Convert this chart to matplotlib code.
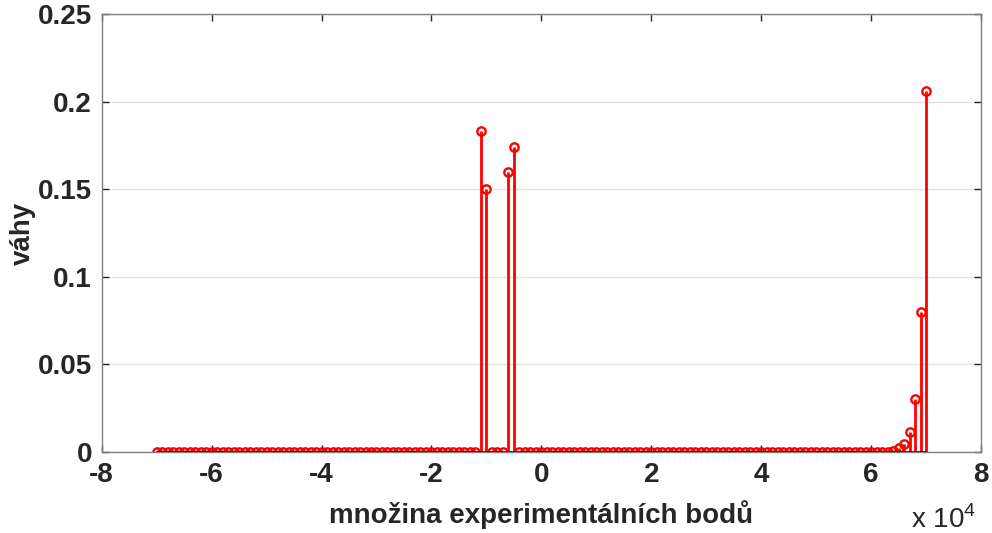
import matplotlib.pyplot as plt
import numpy as np

# experimental points (step 1000) and their weights
body = np.arange(-70000, 70001, 1000)
nenulove_body = [-11000, -10000, -6000, -5000, 64000, 65000, 66000, 67000, 68000, 69000, 70000]
nenulove_vahy = [0.1834, 0.1500, 0.1600, 0.1743, 0.0006, 0.0020, 0.0045, 0.0116, 0.0305, 0.0797, 0.2062]

vahy = np.zeros(len(body))
for b, v in zip(nenulove_body, nenulove_vahy):
    vahy[body == b] = v

xticks = [-80000, -60000, -40000, -20000, 0, 20000, 40000, 60000, 80000]
yticks = [0, 0.05, 0.1, 0.15, 0.2, 0.25]

plt.rcParams['font.family'] = ['Liberation Sans', 'DejaVu Sans']
plt.rcParams['mathtext.fontset'] = 'custom'
plt.rcParams['mathtext.rm'] = 'Liberation Sans'

fig = plt.figure(figsize=(9.92, 5.33), dpi=100)
ax = fig.add_axes([0.1025, 0.152, 0.8865, 0.8217])

ax.grid(axis='y', color='#e3e3e3', linewidth=1)
ax.set_axisbelow(True)

markers, stems, base = ax.stem(body, vahy, linefmt='r-', markerfmt='ro', basefmt='k-')
stems.set_linewidth(2)
markers.set_markersize(6)
markers.set_markerfacecolor('none')
markers.set_markeredgewidth(1.7)
base.set_linewidth(1.2)

ax.set_xlim(-80000, 80000)
ax.set_ylim(0, 0.25)
ax.set_xticks(xticks)
ax.set_xticklabels(['%g' % (t / 1e4) for t in xticks])
ax.set_yticks(yticks)
ax.set_yticklabels(['%g' % t for t in yticks])

ax.tick_params(direction='in', length=5, width=1, colors='#262626', labelsize=20,
               top=True, right=True, pad=7)
for lab in ax.get_xticklabels() + ax.get_yticklabels():
    lab.set_fontweight('bold')
for s in ax.spines.values():
    s.set_color('#808080')
    s.set_linewidth(1)

ax.set_xlabel('množina experimentálních bodů', fontsize=20, fontweight='bold', color='#262626', labelpad=9)
ax.set_ylabel('váhy', fontsize=20, fontweight='bold', color='#262626')
ax.yaxis.set_label_coords(-0.075, 0.5)
fig.text(0.918, 0.01, r'x 10$^{4}$', fontsize=20, color='#262626')

fig.savefig('out.png', dpi=100)
